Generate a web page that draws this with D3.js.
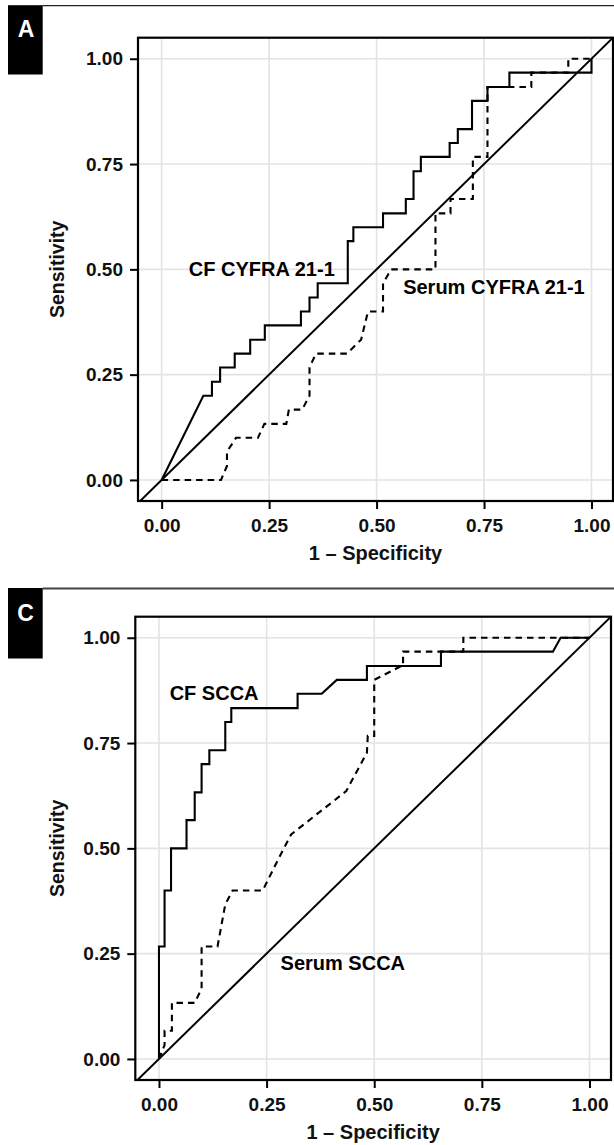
<!DOCTYPE html>
<html>
<head>
<meta charset="utf-8">
<script src="https://cdn.jsdelivr.net/npm/d3@7"></script>
<style>
  html, body { margin: 0; padding: 0; background: #fff; }
  svg { display: block; }
  text { font-family: "Liberation Sans", Arial, Helvetica, sans-serif; font-weight: bold; }
</style>
</head>
<body>
<svg id="chart" width="614" height="1145"></svg>
<script>
// ---------- data ----------
const tickValues = [0, 0.25, 0.5, 0.75, 1];
const tickLabels = ["0.00", "0.25", "0.50", "0.75", "1.00"];
const xTitle = "1 \u2013 Specificity";
const yTitle = "Sensitivity";

// Panel A: CF CYFRA 21-1 (solid)
const cfCyfraFpr = [0, 0.097, 0.117, 0.117, 0.136, 0.136, 0.170, 0.170, 0.206, 0.206, 0.240, 0.240, 0.324, 0.324, 0.344, 0.344, 0.363, 0.363, 0.433, 0.433, 0.446, 0.446, 0.515, 0.515, 0.568, 0.568, 0.586, 0.586, 0.603, 0.603, 0.670, 0.670, 0.689, 0.689, 0.722, 0.722, 0.758, 0.758, 0.809, 0.809, 1.0, 1.0];
const cfCyfraTpr = [0, 0.200, 0.200, 0.233, 0.233, 0.267, 0.267, 0.300, 0.300, 0.333, 0.333, 0.367, 0.367, 0.400, 0.400, 0.433, 0.433, 0.467, 0.467, 0.567, 0.567, 0.600, 0.600, 0.633, 0.633, 0.667, 0.667, 0.733, 0.733, 0.767, 0.767, 0.800, 0.800, 0.833, 0.833, 0.900, 0.900, 0.933, 0.933, 0.967, 0.967, 1.0];

// Panel A: Serum CYFRA 21-1 (dashed)
const serumCyfraFpr = [0, 0.138, 0.152, 0.152, 0.173, 0.224, 0.239, 0.290, 0.296, 0.327, 0.344, 0.344, 0.359, 0.431, 0.464, 0.480, 0.515, 0.515, 0.534, 0.637, 0.637, 0.672, 0.672, 0.724, 0.724, 0.758, 0.758, 0.860, 0.860, 0.946, 0.946, 1.0];
const serumCyfraTpr = [0, 0, 0.033, 0.067, 0.100, 0.100, 0.133, 0.133, 0.167, 0.167, 0.200, 0.267, 0.300, 0.300, 0.333, 0.400, 0.400, 0.467, 0.500, 0.500, 0.633, 0.633, 0.667, 0.667, 0.767, 0.767, 0.933, 0.933, 0.967, 0.967, 1.0, 1.0];

// Panel C: CF SCCA (solid)
const cfSccaFpr = [0, 0, 0.013, 0.013, 0.028, 0.028, 0.064, 0.064, 0.083, 0.083, 0.099, 0.099, 0.117, 0.117, 0.154, 0.154, 0.168, 0.168, 0.322, 0.322, 0.378, 0.413, 0.483, 0.483, 0.655, 0.655, 0.915, 0.933, 1.0];
const cfSccaTpr = [0, 0.267, 0.267, 0.400, 0.400, 0.500, 0.500, 0.567, 0.567, 0.633, 0.633, 0.700, 0.700, 0.733, 0.733, 0.800, 0.800, 0.833, 0.833, 0.867, 0.867, 0.900, 0.900, 0.933, 0.933, 0.967, 0.967, 1.0, 1.0];

// Panel C: Serum SCCA (dashed)
const serumSccaFpr = [0, 0.013, 0.013, 0.030, 0.030, 0.083, 0.099, 0.099, 0.136, 0.154, 0.171, 0.241, 0.280, 0.307, 0.435, 0.483, 0.485, 0.500, 0.500, 0.563, 0.567, 0.567, 0.707, 0.707, 1.0];
const serumSccaTpr = [0, 0.033, 0.067, 0.067, 0.133, 0.133, 0.167, 0.267, 0.267, 0.367, 0.400, 0.400, 0.480, 0.533, 0.636, 0.727, 0.767, 0.767, 0.900, 0.933, 0.933, 0.967, 0.967, 1.0, 1.0];

const panelLetters = ["A", "C"];
const labelsA = ["CF CYFRA 21-1", "Serum CYFRA 21-1"];
const labelsC = ["CF SCCA", "Serum SCCA"];

// ---------- layout ----------
const svg = d3.select("#chart");
const panels = [
  {
    letter: panelLetters[0],
    frameY: 5.7, frameW: 1.3, frameColor: "#222",
    box: {x: 8, y: 5.7, w: 34.7, h: 69.3},
    letterPos: {x: 26, y: 28.5},
    left: 138, right: 613, top: 37.7, bottom: 501,
    series: [
      {fpr: cfCyfraFpr, tpr: cfCyfraTpr, dash: null},
      {fpr: serumCyfraFpr, tpr: serumCyfraTpr, dash: "6.5,5"}
    ],
    labels: [
      {text: labelsA[0], x: 0.233, y: 0.502},
      {text: labelsA[1], x: 0.773, y: 0.459}
    ]
  },
  {
    letter: panelLetters[1],
    frameY: 588.5, frameW: 2, frameColor: "#444",
    box: {x: 8, y: 588.5, w: 34.7, h: 70.5},
    letterPos: {x: 25.5, y: 612.5},
    left: 135.3, right: 611, top: 616.7, bottom: 1080,
    series: [
      {fpr: cfSccaFpr, tpr: cfSccaTpr, dash: null},
      {fpr: serumSccaFpr, tpr: serumSccaTpr, dash: "6.5,5"}
    ],
    labels: [
      {text: labelsC[0], x: 0.128, y: 0.868},
      {text: labelsC[1], x: 0.427, y: 0.227}
    ]
  }
];

panels.forEach((p, pi) => {
  // frame line and letter box
  svg.append("line")
    .attr("x1", p.box.x + p.box.w).attr("x2", 614)
    .attr("y1", p.frameY).attr("y2", p.frameY)
    .attr("stroke", p.frameColor).attr("stroke-width", p.frameW);
  svg.append("rect")
    .attr("x", p.box.x).attr("y", p.box.y - 0.5)
    .attr("width", p.box.w).attr("height", p.box.h)
    .attr("fill", "#000");
  svg.append("text")
    .attr("x", p.letterPos.x).attr("y", p.letterPos.y)
    .attr("text-anchor", "middle").attr("dominant-baseline", "central")
    .attr("fill", "#fff").attr("font-size", 23)
    .text(p.letter);

  const x = d3.scaleLinear().domain([-0.055, 1.05]).range([p.left, p.right]);
  const y = d3.scaleLinear().domain([-0.05, 1.05]).range([p.bottom, p.top]);

  const g = svg.append("g");
  const clipId = "clip" + pi;
  g.append("clipPath").attr("id", clipId)
    .append("rect")
    .attr("x", p.left).attr("y", p.top)
    .attr("width", p.right - p.left).attr("height", p.bottom - p.top);

  // gridlines
  const grid = g.append("g").attr("clip-path", `url(#${clipId})`);
  grid.selectAll("line.vg").data(tickValues).enter().append("line")
    .attr("x1", d => x(d)).attr("x2", d => x(d))
    .attr("y1", p.top).attr("y2", p.bottom)
    .attr("stroke", "#e3e3e3").attr("stroke-width", 1.6);
  grid.selectAll("line.hg").data(tickValues).enter().append("line")
    .attr("y1", d => y(d)).attr("y2", d => y(d))
    .attr("x1", p.left).attr("x2", p.right)
    .attr("stroke", "#e3e3e3").attr("stroke-width", 1.6);

  // diagonal reference line y = x
  const plot = g.append("g").attr("clip-path", `url(#${clipId})`);
  plot.append("line")
    .attr("x1", x(-0.1)).attr("y1", y(-0.1))
    .attr("x2", x(1.1)).attr("y2", y(1.1))
    .attr("stroke", "#000").attr("stroke-width", 2);

  // ROC curves
  const line = d3.line().x(d => x(d[0])).y(d => y(d[1]));
  p.series.forEach(s => {
    const pts = s.fpr.map((f, i) => [f, s.tpr[i]]);
    plot.append("path")
      .attr("d", line(pts))
      .attr("fill", "none")
      .attr("stroke", "#000")
      .attr("stroke-width", 2.1)
      .attr("stroke-linejoin", "miter")
      .attr("stroke-dasharray", s.dash);
  });

  // curve labels
  p.labels.forEach(l => {
    g.append("text")
      .attr("x", x(l.x)).attr("y", y(l.y))
      .attr("text-anchor", "middle").attr("dominant-baseline", "central")
      .attr("font-size", 20).attr("fill", "#000")
      .text(l.text);
  });

  // panel border
  g.append("rect")
    .attr("x", p.left).attr("y", p.top)
    .attr("width", p.right - p.left).attr("height", p.bottom - p.top)
    .attr("fill", "none").attr("stroke", "#000").attr("stroke-width", 2.2);

  // axes
  const fmt = (d, i) => tickLabels[i];
  const yAxis = d3.axisLeft(y).tickValues(tickValues).tickFormat(fmt).tickSize(8).tickPadding(7);
  const xAxis = d3.axisBottom(x).tickValues(tickValues).tickFormat(fmt).tickSize(8).tickPadding(10);

  const ya = g.append("g").attr("transform", `translate(${p.left},0)`).call(yAxis);
  const xa = g.append("g").attr("transform", `translate(0,${p.bottom})`).call(xAxis);
  [ya, xa].forEach(a => {
    a.select(".domain").remove();
    a.selectAll(".tick line").attr("stroke", "#000").attr("stroke-width", 2);
    a.selectAll(".tick text")
      .attr("font-family", "'Liberation Sans', Arial, sans-serif")
      .attr("font-weight", "bold")
      .attr("font-size", 19).attr("fill", "#111");
  });

  // axis titles
  g.append("text")
    .attr("x", (p.left + p.right) / 2).attr("y", p.bottom + 58.5)
    .attr("text-anchor", "middle").attr("font-size", 20).attr("fill", "#111")
    .text(xTitle);
  g.append("text")
    .attr("transform", `translate(63.5,${(p.top + p.bottom) / 2}) rotate(-90)`)
    .attr("text-anchor", "middle").attr("font-size", 19.5).attr("fill", "#111")
    .text(yTitle);
});
</script>
</body>
</html>
